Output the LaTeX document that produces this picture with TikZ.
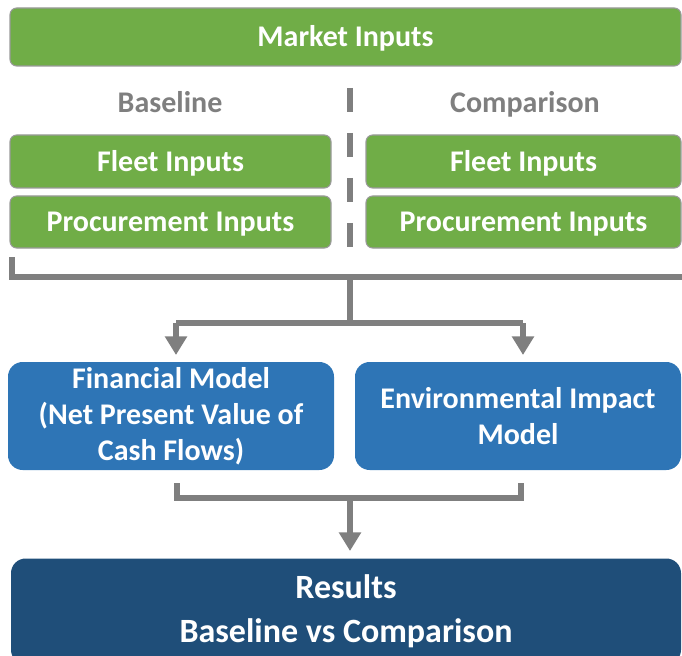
\documentclass[tikz,border=0pt]{standalone}
\usepackage{fontspec}
\setmainfont{Carlito}
\usetikzlibrary{arrows.meta}
\definecolor{mgreen}{HTML}{70AD47}
\definecolor{mgray}{HTML}{7F7F7F}
\definecolor{mborder}{HTML}{9A9A9A}
\definecolor{mblue}{HTML}{2E75B6}
\definecolor{mdark}{HTML}{1F4E79}
\tikzset{
  gbox/.style={fill=mgreen, draw=mborder, line width=0.8pt, rounded corners=5pt, text=white,
    font=\fontsize{22.5}{27}\selectfont\bfseries, inner sep=0pt, text height=14.5pt, text depth=0pt},
  bbox/.style={fill=mblue, rounded corners=11pt, text=white, align=center,
    font=\fontsize{22.5}{27}\selectfont\bfseries, inner sep=0pt},
  rbox/.style={fill=mdark, rounded corners=11pt, text=white, align=center,
    font=\fontsize{25.5}{33}\selectfont\bfseries, inner sep=0pt},
  lbl/.style={text=mgray, font=\fontsize{22.5}{27}\selectfont\bfseries, inner sep=0pt, text height=14.5pt, text depth=0pt},
  conn/.style={draw=mgray, line width=4.2pt},
  arr/.style={conn, -{Triangle[width=16pt,length=14pt]}},
  divider/.style={draw=mgray, line width=3.8pt, dash pattern=on 18pt off 15.75pt}
}
\begin{document}
\begin{tikzpicture}[x=0.75pt, y=-0.75pt]
\useasboundingbox (0,0) rectangle (682,656);
\clip (0,0) rectangle (682,656);
% boxes
\node[gbox, minimum width=503.25pt, minimum height=43.5pt] (market) at (345.5,37) {Market Inputs};
\node[lbl] (base) at (170,103) {Baseline};
\node[lbl] (comp) at (525,103) {Comparison};
\node[gbox, minimum width=240.75pt, minimum height=39.75pt] (fleetL) at (170.5,161.5) {Fleet Inputs};
\node[gbox, minimum width=236.25pt, minimum height=39.75pt] (fleetR) at (523.5,161.5) {Fleet Inputs};
\node[gbox, minimum width=240.75pt, minimum height=39pt] (procL) at (170.5,222) {Procurement Inputs};
\node[gbox, minimum width=236.25pt, minimum height=39pt] (procR) at (523.5,222) {Procurement Inputs};
\node[bbox, minimum width=244.5pt, minimum height=81pt] (fin) at (171,416) {Financial Model\\(Net Present Value of\\Cash Flows)};
\node[bbox, minimum width=244.5pt, minimum height=81pt] (env) at (518,416) {Environmental Impact\\Model};
\node[rbox, minimum width=502.5pt, minimum height=79.5pt] (res) at (346,611.5) {Results\\Baseline vs Comparison};
% divider
\coordinate (dtop) at (350,88);
\coordinate (dbot) at (350,248);
\draw[divider] (dtop) -- (dbot);
% input bracket
\coordinate (bL) at (12,257);
\coordinate (bLc) at (12,277);
\coordinate (bR) at (690,277);
\coordinate (bM) at (350,277);
\draw[conn] (bL) -- (bLc) -- (bR);
\coordinate (sM) at (350,323);
\coordinate (sL) at (176,323);
\coordinate (sR) at (523,323);
\draw[conn] (bM) -- (sM);
\draw[conn] (sL) -- (sR);
\draw[arr] (sL) -- (sL |- 0,355);
\draw[arr] (sR) -- (sR |- 0,355);
% output bracket
\coordinate (oL) at (177,483);
\coordinate (oLc) at (177,498);
\coordinate (oR) at (521,483);
\coordinate (oRc) at (521,498);
\coordinate (oM) at (350,498);
\draw[conn] (oL) -- (oLc) -- (oRc) -- (oR);
\draw[arr] (oM) -- (oM |- 0,551);
\end{tikzpicture}
\end{document}
